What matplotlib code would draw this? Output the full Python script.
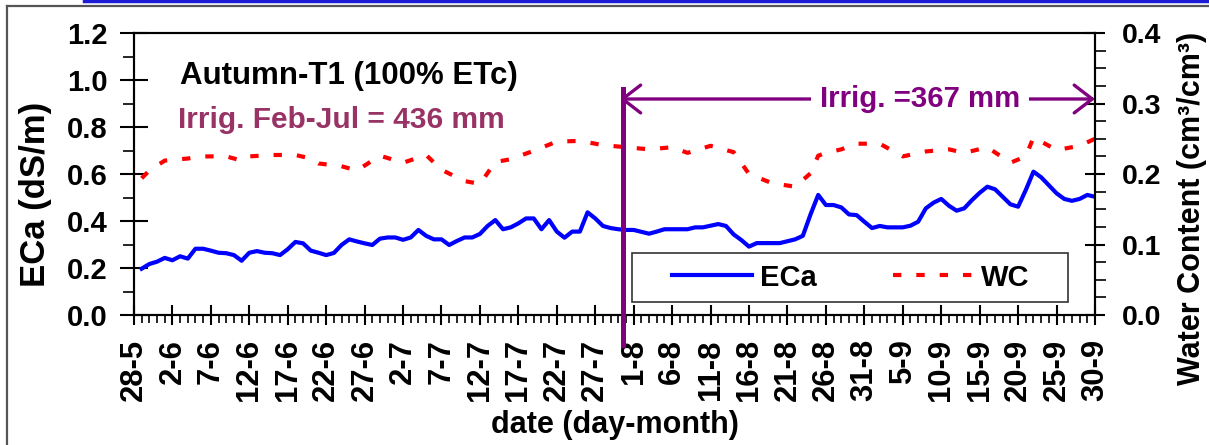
import matplotlib
matplotlib.use("Agg")
import matplotlib.pyplot as plt
from matplotlib.lines import Line2D
from matplotlib.patches import Rectangle
from matplotlib.ticker import MultipleLocator, FormatStrFormatter

plt.rcParams['font.family'] = ['Liberation Sans', 'DejaVu Sans']
plt.rcParams['font.weight'] = 'bold'

# x axis: days counted from 28 May
TICK_DAYS = list(range(0, 126, 5))
TICK_LABELS = ["28-5", "2-6", "7-6", "12-6", "17-6", "22-6", "27-6", "2-7",
               "7-7", "12-7", "17-7", "22-7", "27-7", "1-8", "6-8", "11-8",
               "16-8", "21-8", "26-8", "31-8", "5-9", "10-9", "15-9", "20-9",
               "25-9", "30-9"]

# apparent electrical conductivity (dS/m), daily
ECA_DAYS = list(range(1, 126))
ECA = [0.197, 0.217, 0.227, 0.243, 0.233, 0.250, 0.240, 0.282, 0.282, 0.274,
       0.265, 0.263, 0.255, 0.231, 0.265, 0.272, 0.265, 0.263, 0.255, 0.280,
       0.311, 0.305, 0.274, 0.265, 0.255, 0.264, 0.298, 0.322, 0.313, 0.305,
       0.298, 0.325, 0.330, 0.330, 0.320, 0.330, 0.362, 0.337, 0.322, 0.322,
       0.298, 0.315, 0.330, 0.330, 0.345, 0.379, 0.404, 0.365, 0.373, 0.390,
       0.411, 0.411, 0.365, 0.404, 0.355, 0.329, 0.355, 0.355, 0.437, 0.411,
       0.379, 0.370, 0.365, 0.362, 0.362, 0.354, 0.346, 0.355, 0.365, 0.365,
       0.365, 0.365, 0.373, 0.373, 0.380, 0.387, 0.379, 0.343, 0.319, 0.291,
       0.306, 0.306, 0.306, 0.306, 0.314, 0.322, 0.337, 0.428, 0.511, 0.468,
       0.468, 0.458, 0.428, 0.425, 0.397, 0.370, 0.379, 0.373, 0.373, 0.373,
       0.380, 0.397, 0.454, 0.478, 0.494, 0.465, 0.444, 0.454, 0.489, 0.520,
       0.546, 0.535, 0.503, 0.471, 0.461, 0.532, 0.610, 0.586, 0.552, 0.518,
       0.494, 0.486, 0.494, 0.511, 0.503]

# soil water content (cm3/cm3)
WC_DAYS = [1, 2, 4, 7, 9, 12, 13, 14, 15, 18, 21, 23, 24, 27, 29, 30, 32, 35,
           38, 40, 43, 45, 47, 49, 52, 55, 58, 61, 64, 67, 70, 72, 75, 78, 80,
           83, 86, 88, 89, 90, 92, 94, 97, 100, 103, 106, 108, 111, 114, 116,
           117, 120, 123, 125]
WC = [0.194, 0.205, 0.219, 0.222, 0.225, 0.225, 0.222, 0.219, 0.225, 0.227,
      0.227, 0.222, 0.215, 0.211, 0.205, 0.212, 0.226, 0.216, 0.227, 0.206,
      0.190, 0.186, 0.217, 0.221, 0.233, 0.246, 0.247, 0.241, 0.238, 0.235,
      0.238, 0.230, 0.240, 0.231, 0.200, 0.187, 0.182, 0.201, 0.226, 0.230,
      0.235, 0.243, 0.243, 0.225, 0.232, 0.235, 0.230, 0.238, 0.216, 0.225,
      0.252, 0.234, 0.240, 0.250]

IRRIG_START_DAY = 63.6
TITLE = "Autumn-T1 (100% ETc)"
NOTE_SEASON = "Irrig. Feb-Jul = 436 mm"
NOTE_PERIOD = "Irrig. =367 mm"

BLUE = "#0000ff"
RED = "#ff0000"
PURPLE = "#800080"
PLUM = "#993366"

fig = plt.figure(figsize=(12.09, 4.45), dpi=100)
ax = fig.add_axes([0.1108, 0.2921, 0.7949, 0.6337])
ax2 = ax.twinx()

ax.plot(ECA_DAYS, ECA, color=BLUE, lw=3.0, solid_joinstyle='round')
ax2.plot(WC_DAYS, WC, color=RED, lw=3.0, dashes=(2.0, 3.6))

ax.set_xlim(0, 125)
ax.set_ylim(0, 1.2)
ax2.set_ylim(0, 0.4)

ax.set_xticks(TICK_DAYS)
ax.set_xticklabels(TICK_LABELS, rotation=90)
ax.xaxis.set_minor_locator(MultipleLocator(1))
ax.yaxis.set_major_locator(MultipleLocator(0.2))
ax.yaxis.set_minor_locator(MultipleLocator(0.1))
ax.yaxis.set_major_formatter(FormatStrFormatter('%.1f'))
ax2.yaxis.set_major_locator(MultipleLocator(0.1))
ax2.yaxis.set_minor_locator(MultipleLocator(0.025))
ax2.yaxis.set_major_formatter(FormatStrFormatter('%.1f'))

ax.tick_params(axis='x', which='major', direction='inout', length=15,
               width=1.5, labelsize=22.3, pad=10)
ax.tick_params(axis='x', which='minor', direction='out', length=6, width=1.2)
ax.tick_params(axis='y', which='major', direction='inout', length=20,
               width=1.5, labelsize=21, pad=9)
ax.tick_params(axis='y', which='minor', direction='out', length=8, width=1.2)
ax2.tick_params(axis='y', which='major', direction='inout', length=15,
                width=1.5, labelsize=20.5, pad=12)
ax2.tick_params(axis='y', which='minor', direction='out', length=8, width=1.2)

for a in (ax, ax2):
    for sp in a.spines.values():
        sp.set_linewidth(1.5)

# axis titles
fig.text(36 / 1209, 1 - 194 / 445, "ECa (dS/m)", rotation=90, ha='center',
         va='center', fontsize=25)
fig.text(1192 / 1209, 1 - 208 / 445, "Water Content (cm³/cm³)", rotation=90,
         ha='center', va='center', fontsize=22)
fig.text(615 / 1209, 1 - 425 / 445, "date (day-month)", ha='center',
         va='center', fontsize=22)

# annotations
ax.text(0.048, 0.848, TITLE, transform=ax.transAxes, ha='left', va='center',
        fontsize=22.5, color='black')
ax.text(0.046, 0.692, NOTE_SEASON, transform=ax.transAxes, ha='left',
        va='center', fontsize=21.5, color=PLUM)

ax2.axvline(IRRIG_START_DAY, ymin=-0.106, ymax=0.80, color=PURPLE, lw=3.6,
            clip_on=False, zorder=4)
xt = ax2.get_xaxis_transform()
ax2.annotate('', xy=(125, 0.766), xycoords=xt,
             xytext=(IRRIG_START_DAY - 0.4, 0.766), textcoords=xt,
             arrowprops=dict(arrowstyle='<->,head_length=0.65,head_width=0.5',
                             color=PURPLE, lw=2.4, mutation_scale=20,
                             shrinkA=0, shrinkB=0),
             annotation_clip=False, zorder=4)
ax2.text(102.2, 0.766, NOTE_PERIOD, transform=xt, ha='center', va='center',
         fontsize=21.2, color=PURPLE, zorder=5,
         bbox=dict(boxstyle='square,pad=0.3', facecolor='white',
                   edgecolor='none'))

# legend: white framed box with the two entries spread across it
ax2.add_patch(Rectangle((0.518, 0.046), 0.454, 0.174, transform=ax2.transAxes,
                        facecolor='white', edgecolor='#333333', lw=1.2,
                        zorder=6, clip_on=False))
handles = [Line2D([], [], color=BLUE, lw=3.0),
           Line2D([], [], color=RED, lw=3.0, dashes=(2.0, 3.6))]
leg = ax2.legend(handles, ["ECa", "WC"], ncol=2, loc='center left',
                 bbox_to_anchor=(0.5598, 0.046, 0.3725, 0.174), mode='expand',
                 borderaxespad=0, borderpad=0, frameon=False, fontsize=21,
                 handlelength=2.75, handletextpad=0.28, columnspacing=1.0)
leg.set_zorder(7)

# page frame
fig.add_artist(Line2D([7 / 1209, 7 / 1209], [0, 1 - 5.5 / 445],
                      transform=fig.transFigure, color='#555555', lw=1.6))
fig.add_artist(Line2D([7 / 1209, 1], [1 - 5.5 / 445, 1 - 5.5 / 445],
                      transform=fig.transFigure, color='#555555', lw=1.6))
fig.add_artist(Line2D([84 / 1209, 1], [1 - 1 / 445, 1 - 1 / 445],
                      transform=fig.transFigure, color='#1c1cd8', lw=2.5))

fig.savefig("out.png", dpi=100)
